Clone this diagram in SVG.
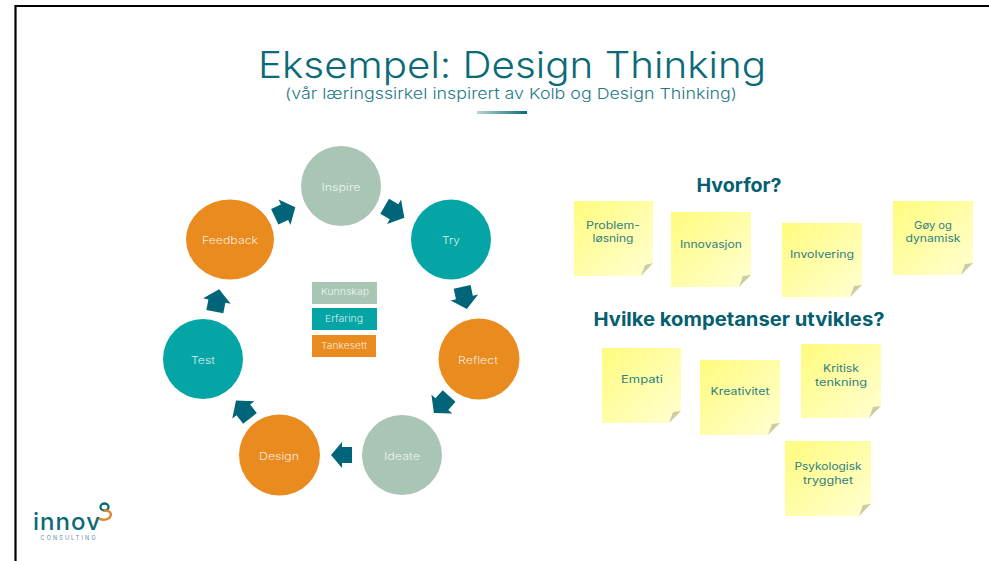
<svg xmlns="http://www.w3.org/2000/svg" width="989" height="561" viewBox="0 0 989 561">
<style>
text{font-family:Inter,"Open Sans","DejaVu Sans",sans-serif;text-anchor:middle}
.cl{font-size:10.500px;font-weight:300;fill:#fff;fill-opacity:.85}
.lg{font-size:9.500px;font-weight:300;fill:#fff;fill-opacity:.85}
.nt{font-size:10.500px;font-weight:400;fill:#2f7f80}
.hd{font-size:19px;font-weight:700;fill:#04606f}
.sage{fill:#A9C5B5}.teal{fill:#06A5A5}.org{fill:#E98B1E}
.arr{fill:#006578}
.note{fill:url(#ng)}
.fold{fill:#CFCBA3}
</style>
<defs>
<linearGradient id="ng" x1="0" y1="0" x2="1" y2="1"><stop offset="0" stop-color="#FFFB7E"/><stop offset="1" stop-color="#FFFFD2"/></linearGradient>
<linearGradient id="ul" x1="0" y1="0" x2="1" y2="0"><stop offset="0" stop-color="#B9D6CF"/><stop offset="1" stop-color="#0B6A78"/></linearGradient>
<polygon id="ar" points="10.5,0 -0.5,-13 -0.5,-8 -10.5,-8 -10.5,8 -0.5,8 -0.5,13"/>
</defs>
<rect width="989" height="561" fill="#fff"/>
<path d="M989 6H15.500V561" fill="none" stroke="#000" stroke-width="2.200"/>
<g id="title">
<text x="512" y="78" font-size="37" font-weight="300" fill="#0B6A78" textLength="508" lengthAdjust="spacingAndGlyphs">Eksempel: Design Thinking</text>
<text x="511" y="99" font-size="15" font-weight="300" fill="#1F7A86" textLength="452" lengthAdjust="spacingAndGlyphs">(vår læringssirkel inspirert av Kolb og Design Thinking)</text>
<rect x="477" y="111" width="50" height="3" fill="url(#ul)"/>
</g>
<g id="connectors" class="arr">
<use href="#ar" transform="translate(394.500,212) rotate(30) scale(1.08)"/>
<use href="#ar" transform="translate(464.500,298) rotate(78) scale(1.08)"/>
<use href="#ar" transform="translate(441.500,404.500) rotate(132) scale(1.08)"/>
<use href="#ar" transform="translate(341.500,455) rotate(180)"/>
<use href="#ar" transform="translate(243,409.500) rotate(232) scale(1.08)"/>
<use href="#ar" transform="translate(217,300.500) rotate(281) scale(1.08)"/>
<use href="#ar" transform="translate(285,212) rotate(335) scale(1.08)"/>
</g>
<g id="n-inspire"><circle class="sage" cx="341" cy="186" r="40"/><text class="cl" x="341" y="191" textLength="39" lengthAdjust="spacingAndGlyphs">Inspire</text></g>
<g id="n-try"><circle class="teal" cx="451" cy="239.500" r="40"/><text class="cl" x="451" y="244" textLength="18" lengthAdjust="spacingAndGlyphs">Try</text></g>
<g id="n-reflect"><circle class="org" cx="479" cy="359" r="40.500"/><text class="cl" x="478" y="364" textLength="40" lengthAdjust="spacingAndGlyphs">Reflect</text></g>
<g id="n-ideate"><circle class="sage" cx="402" cy="455" r="40"/><text class="cl" x="402" y="460" textLength="36" lengthAdjust="spacingAndGlyphs">Ideate</text></g>
<g id="n-design"><circle class="org" cx="279.500" cy="455" r="40.500"/><text class="cl" x="279" y="460" textLength="40" lengthAdjust="spacingAndGlyphs">Design</text></g>
<g id="n-test"><circle class="teal" cx="203" cy="359" r="40"/><text class="cl" x="203" y="364" textLength="24" lengthAdjust="spacingAndGlyphs">Test</text></g>
<g id="n-feedback"><ellipse class="org" cx="230" cy="239.500" rx="44" ry="40"/><text class="cl" x="230" y="244" textLength="56" lengthAdjust="spacingAndGlyphs">Feedback</text></g>
<g id="legend-kunnskap"><rect class="sage" x="312" y="282" width="65" height="22"/><text class="lg" x="345" y="295" textLength="48" lengthAdjust="spacingAndGlyphs">Kunnskap</text></g>
<g id="legend-erfaring"><rect class="teal" x="312" y="308" width="65" height="22"/><text class="lg" x="344" y="322" textLength="38" lengthAdjust="spacingAndGlyphs">Erfaring</text></g>
<g id="legend-tankesett"><rect class="org" x="312" y="335" width="64" height="22"/><text class="lg" x="344" y="349" textLength="46" lengthAdjust="spacingAndGlyphs">Tankesett</text></g>
<text class="hd" x="739" y="192" textLength="85" lengthAdjust="spacingAndGlyphs">Hvorfor?</text>
<text class="hd" x="739" y="326" textLength="291" lengthAdjust="spacingAndGlyphs">Hvilke kompetanser utvikles?</text>
<g id="note-problem"><path class="note" d="M574 201H653V263L641 276H574Z"/><path class="fold" d="M641 276L645 265L653 263Z"/><text class="nt" x="613" y="229" textLength="54" lengthAdjust="spacingAndGlyphs">Problem-</text><text class="nt" x="613" y="242" textLength="41" lengthAdjust="spacingAndGlyphs">løsning</text></g>
<g id="note-innovasjon"><path class="note" d="M671 212H751V275L739 287H671Z"/><path class="fold" d="M739 287L743 276L751 275Z"/><text class="nt" x="711" y="248" textLength="62" lengthAdjust="spacingAndGlyphs">Innovasjon</text></g>
<g id="note-involvering"><path class="note" d="M782 223H862V285L850 297H782Z"/><path class="fold" d="M850 297L854 286L862 285Z"/><text class="nt" x="822" y="258" textLength="64" lengthAdjust="spacingAndGlyphs">Involvering</text></g>
<g id="note-goy"><path class="note" d="M893 201H973V263L961 275H893Z"/><path class="fold" d="M961 275L965 264L973 263Z"/><text class="nt" x="933" y="229" textLength="38" lengthAdjust="spacingAndGlyphs">Gøy og</text><text class="nt" x="933" y="242" textLength="55" lengthAdjust="spacingAndGlyphs">dynamisk</text></g>
<g id="note-empati"><path class="note" d="M602 348H681V411L669 423H602Z"/><path class="fold" d="M669 423L673 412L681 411Z"/><text class="nt" x="642" y="383" textLength="42" lengthAdjust="spacingAndGlyphs">Empati</text></g>
<g id="note-kreativitet"><path class="note" d="M700 360H780V423L768 435H700Z"/><path class="fold" d="M768 435L772 424L780 423Z"/><text class="nt" x="740" y="395" textLength="59" lengthAdjust="spacingAndGlyphs">Kreativitet</text></g>
<g id="note-kritisk"><path class="note" d="M801 344H881V406L869 418H801Z"/><path class="fold" d="M869 418L873 407L881 406Z"/><text class="nt" x="841" y="372" textLength="36" lengthAdjust="spacingAndGlyphs">Kritisk</text><text class="nt" x="841" y="386" textLength="52" lengthAdjust="spacingAndGlyphs">tenkning</text></g>
<g id="note-psykologisk"><path class="note" d="M785 441H871V504L859 516H785Z"/><path class="fold" d="M859 516L863 505L871 504Z"/><text class="nt" x="828" y="470" textLength="67" lengthAdjust="spacingAndGlyphs">Psykologisk</text><text class="nt" x="828" y="484" textLength="50" lengthAdjust="spacingAndGlyphs">trygghet</text></g>
<g id="logo">
<text x="66.500" y="530" font-size="24" font-weight="500" fill="#0B6A78" textLength="67" lengthAdjust="spacing">innov</text>
<text x="68" y="540" font-size="5.500" font-weight="400" fill="#5B9298" textLength="55" lengthAdjust="spacing">CONSULTING</text>
<ellipse cx="104.500" cy="507" rx="4" ry="3.500" fill="none" stroke="#0B6A78" stroke-width="2.300"/>
<path d="M104.500 510.500C110 510.500 111.500 513 110.500 516C109.500 519.500 104 520.500 100 519" fill="none" stroke="#DD8A32" stroke-width="2.500" stroke-linecap="round"/>
</g>
</svg>
